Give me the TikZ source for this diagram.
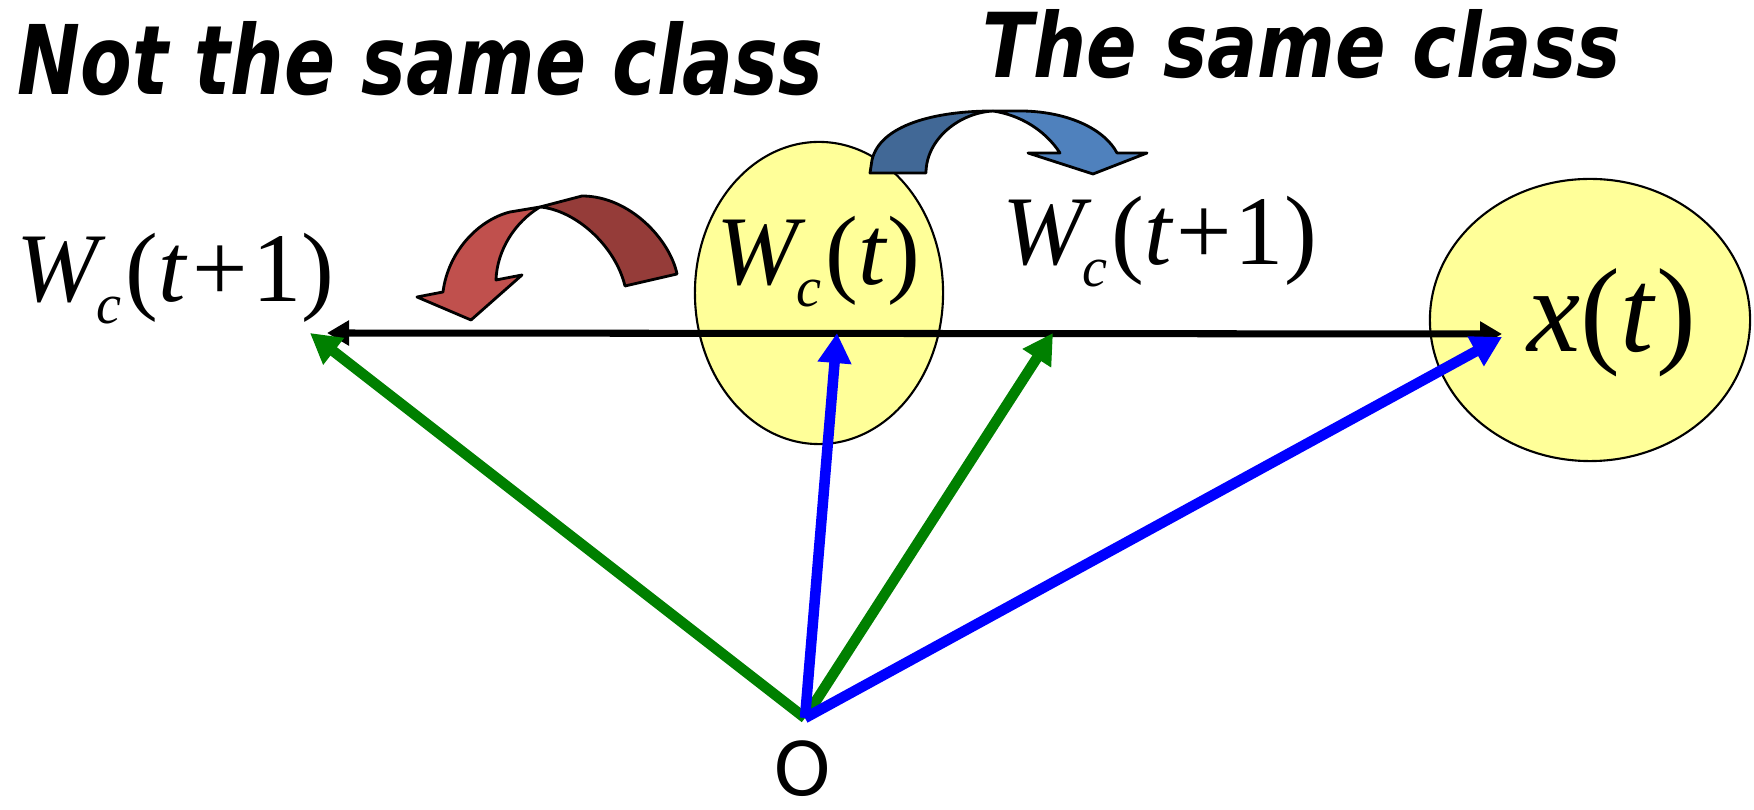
\documentclass[tikz,border=0pt]{standalone}
\usepackage{fontspec}
\setmainfont{Liberation Serif}
\newfontfamily\dvsans{DejaVu Sans}
\usepackage{graphicx}
\usetikzlibrary{shapes.geometric, arrows.meta, positioning}
\definecolor{cY}{RGB}{255,255,153}
\definecolor{cG}{RGB}{0,128,0}
\definecolor{cB}{RGB}{0,0,255}
\definecolor{cRd}{RGB}{149,60,57}
\definecolor{cRl}{RGB}{192,80,77}
\definecolor{cBd}{RGB}{65,104,150}
\definecolor{cBl}{RGB}{79,129,189}
\newcommand{\wlab}[1]{\textit{W}\hspace{-0.1em}\raisebox{-0.22em}{\fontsize{16}{16}\selectfont\textit{c}}\hspace{0.04em}(#1)}
\newcommand{\ttl}[3]{\resizebox{#1}{#2}{\dvsans\bfseries\itshape #3}}

\begin{document}
\begin{tikzpicture}[x=0.01cm, y=-0.01cm,
    blob/.style={ellipse, draw, fill=cY, line width=0.6pt, inner sep=0pt},
    lab/.style={anchor=base west, inner sep=0pt, font=\fontsize{28}{30}\selectfont},
    vec/.style={line width=3pt, -{Triangle[length=0.3cm, width=0.32cm]}},
    axis/.style={line width=2pt, {Triangle[length=0.22cm, width=0.24cm]}-{Triangle[length=0.22cm, width=0.24cm]}},
    bent/.style={draw, line width=0.8pt, line join=round}]

    \useasboundingbox (0,0) rectangle (1754,810);

    % Titles
    \node[anchor=base west, inner sep=0pt] (nsc) at (17,95) {\ttl{8.05cm}{0.73cm}{Not the same class}};
    \node[anchor=base west, inner sep=0pt] (tsc) at (982,78) {\ttl{6.38cm}{0.68cm}{The same class}};

    % Classes
    \node[blob, minimum width=2.48cm, minimum height=3.02cm] (wt) at (819,293) {};
    \node[blob, minimum width=3.2cm, minimum height=2.82cm] (xe) at (1590,320) {};

    % Labels
    \node[lab] (wl) at (16,302) {\wlab{\textit{t}\hspace{0.05em}+\hspace{0.05em}1}};
    \node[lab] (wr) at (1002,265) {\wlab{\textit{t}\hspace{0.03em}+\hspace{0.03em}1}};
    \node[lab] (wtl) at (716,285) {\wlab{\textit{t}}};
    \node[lab, font=\fontsize{34}{36}\selectfont] (xl) at (1527,352) {\textit{x}(\textit{t})};
    \node[anchor=base, inner sep=0pt, font=\dvsans\fontsize{21}{22}\selectfont] (olab) at (803,796) {O};

    % Curved arrows
    \path[bent, fill=cRd] (625,286) -- (677,274) .. controls (670,240) and (630,196) .. (582,196)
        -- (540,207) .. controls (575,210) and (615,245) .. (625,286) -- cycle;
    \path[bent, fill=cRl] (540,207) -- (510,212) .. controls (478,220) and (448,252) .. (443,292)
        -- (417,297) -- (471,320) -- (522,275) -- (496,280)
        .. controls (497,250) and (515,222) .. (540,207) -- cycle;
    \path[bent, fill=cBd] (870,173) -- (872,160) .. controls (880,125) and (935,111) .. (993,111)
        .. controls (958,113) and (926,140) .. (926,173) -- cycle;
    \path[bent, fill=cBl] (993,111) -- (1023,111) .. controls (1070,112) and (1105,130) .. (1117,153)
        -- (1147,153) -- (1093,174) -- (1028,153) -- (1060,153)
        .. controls (1045,130) and (1020,115) .. (993,111) -- cycle;

    % Vectors
    \coordinate (orig) at (805,718);
    \coordinate (tipL) at (310,333);
    \coordinate (tipG) at (1053,333);
    \coordinate (tipW) at (837,333);
    \coordinate (tipX) at (1502,337);
    \coordinate (endL) at (327,333);
    \coordinate (endR) at (1502,334);

    \draw[axis] (endL) -- (endR);
    \draw[vec, cG] (orig) -- (tipL);
    \draw[vec, cG] (orig) -- (tipG);
    \draw[vec, cB] (orig) -- (tipW);
    \draw[vec, cB] (orig) -- (tipX);

\end{tikzpicture}
\end{document}
